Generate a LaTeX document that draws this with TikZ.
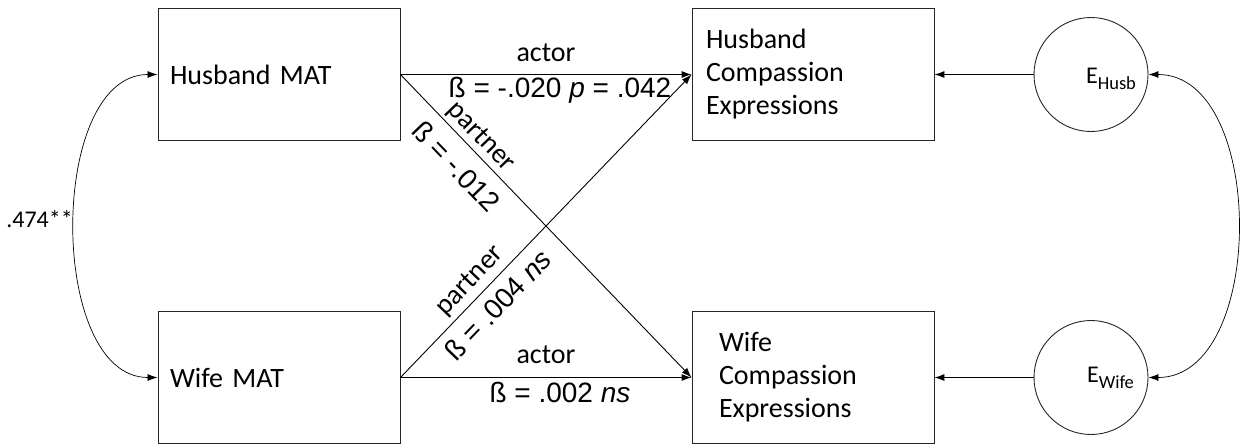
\documentclass[tikz,border=0pt]{standalone}
\usepackage{fontspec}
\setmainfont{Carlito}
\newfontfamily\arialfont{Liberation Sans}
\usetikzlibrary{arrows.meta}
\newcommand{\errsub}[1]{E\raisebox{-6pt}{\fontsize{18.5}{18.5}\selectfont #1}}
\begin{document}
\begin{tikzpicture}[x=1pt,y=-1pt,
    >={Latex[length=10pt,width=7pt]},
    line width=0.9pt,
    box/.style={draw=black!85,rectangle,minimum height=132pt,inner ysep=0pt,align=left,font=\fontsize{28}{33}\selectfont},
    errc/.style={draw=black!85,circle,minimum size=114pt,inner sep=0pt},
    lbl/.style={inner sep=0pt,font=\fontsize{28}{33}\selectfont},
    beta/.style={inner sep=0pt,font=\arialfont\fontsize{28}{33}\selectfont}]
  \useasboundingbox (0,0) rectangle (1241,445);
  \path
    (279,74.5) node[box,inner xsep=12pt,text width=218pt] (hmat){Husband MAT}
    (279,377.5) node[box,inner xsep=12pt,text width=218pt] (wmat){Wife MAT}
    (813,74.5) node[box,inner xsep=14pt,text width=214pt] (hcomp){Husband\\Compassion\\Expressions}
    (813,377.5) node[box,inner xsep=27pt,text width=188pt] (wcomp){Wife\\Compassion\\Expressions}
    (1091,74.5) node[errc] (eh){}
    (1091,377.5) node[errc] (ew){}
    (1111,78.5) node[font=\fontsize{24}{28}\selectfont,inner sep=0pt] (ehl){\errsub{Husb}}
    (1110.5,377.5) node[font=\fontsize{24}{28}\selectfont,inner sep=0pt] (ewl){\errsub{Wife}};
  \begin{scope}[->]
    \draw (hmat.east) to node[midway,anchor=base,yshift=13pt,lbl]{actor}
      node[midway,anchor=base,yshift=-23pt,xshift=14pt,beta]{ß = -.020 \textit{p} = .042} (hcomp.west);
    \draw (wmat.east) to node[midway,anchor=base,yshift=14pt,lbl]{actor}
      node[midway,anchor=base,yshift=-25pt,xshift=14pt,beta]{ß = .002 \textit{ns}} (wcomp.west);
    \draw (hmat.east) to node[pos=.24,sloped,above=3pt,lbl]{partner}
      node[pos=.25,sloped,below=12.5pt,beta]{ß = -.012} (wcomp.west);
    \draw (wmat.east) to node[pos=.28,sloped,above=5pt,lbl]{partner}
      node[pos=.285,sloped,below=9pt,beta]{ß = .004 \textit{ns}} (hcomp.west);
    \draw (eh.west) to (hcomp.east);
    \draw (ew.west) to (wcomp.east);
  \end{scope}
  \begin{scope}[<->,line width=0.7pt]
    \draw (hmat.west) to[out=180,in=180,looseness=0.93]
      node[pos=.5,left=2pt,yshift=7pt,inner sep=0pt,font=\fontsize{24}{28}\selectfont]{.474**} (wmat.west);
    \draw (eh.east) to[out=0,in=0,looseness=1.0] (ew.east);
  \end{scope}
\end{tikzpicture}
\end{document}
